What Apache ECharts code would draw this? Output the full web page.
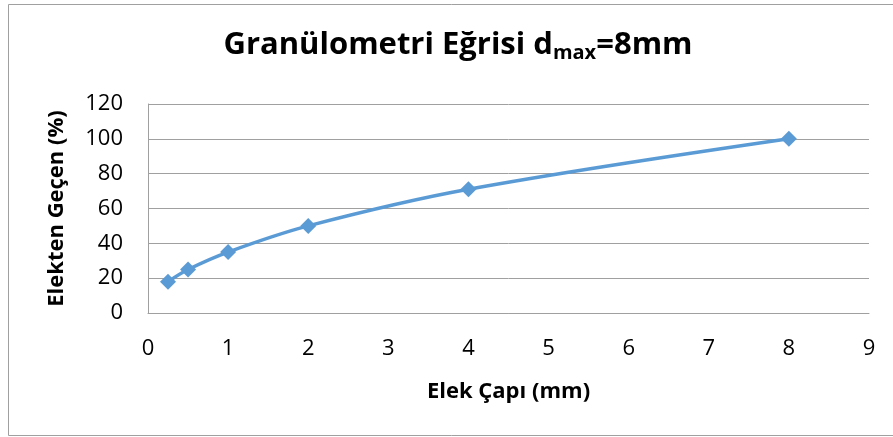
<!DOCTYPE html>
<html>
<head>
<meta charset="utf-8">
<script src="https://cdn.jsdelivr.net/npm/echarts@6/dist/echarts.min.js"></script>
<style>
  html, body { margin: 0; padding: 0; background: #fff; }
  #chart { width: 893px; height: 437px; }
</style>
</head>
<body>
<div id="chart"></div>
<script>
// sieve size (mm) and percent passing
const sieveSizes = [0.25, 0.5, 1, 2, 4, 8];
const passing = [18, 25, 35, 50, 71, 100];

const chart = echarts.init(document.getElementById('chart'));
const font = '"Open Sans", Lato, sans-serif';

chart.setOption({
  animation: false,
  backgroundColor: '#fff',
  title: {
    text: '{a|Granülometri Eğrisi d}{b|max}{a|=8mm}',
    left: 453,
    textAlign: 'center',
    top: 23,
    textStyle: {
      rich: {
        a: { fontFamily: font, fontWeight: 'bold', fontSize: 31, color: '#000' },
        b: { fontFamily: font, fontWeight: 'bold', fontSize: 20, color: '#000', padding: [15, 0, 0, 0] }
      }
    }
  },
  graphic: [{
    type: 'rect',
    shape: { x: 8.5, y: 4.5, width: 900, height: 431 },
    style: { fill: 'none', stroke: '#a0a0a0', lineWidth: 1 },
    silent: true
  }],
  grid: { left: 148, top: 104, right: 24, bottom: 124 },
  xAxis: {
    type: 'value',
    min: 0, max: 9, interval: 1,
    name: 'Elek Çapı (mm)',
    nameLocation: 'middle',
    nameGap: 68,
    nameTextStyle: { fontFamily: font, fontWeight: 'bold', fontSize: 22, color: '#000' },
    axisLine: { show: true, lineStyle: { color: '#a0a0a0', width: 1 } },
    axisTick: { show: false },
    splitLine: { show: false },
    axisLabel: { fontFamily: font, fontSize: 22, color: '#000', margin: 25 }
  },
  yAxis: {
    type: 'value',
    min: 0, max: 120, interval: 20,
    name: 'Elekten Geçen (%)',
    nameLocation: 'middle',
    nameGap: 80,
    nameTextStyle: { fontFamily: font, fontWeight: 'bold', fontSize: 22, color: '#000' },
    axisLine: { show: true, lineStyle: { color: '#a0a0a0', width: 1 } },
    axisTick: { show: false },
    splitLine: { show: true, lineStyle: { color: '#a0a0a0', width: 1 } },
    axisLabel: { fontFamily: font, fontSize: 22, color: '#000', margin: 25 }
  },
  series: [{
    type: 'line',
    data: sieveSizes.map((x, i) => [x, passing[i]]),
    smooth: 0.35,
    symbol: 'diamond',
    symbolSize: 16,
    lineStyle: { color: '#5b9bd5', width: 3.5 },
    itemStyle: { color: '#5b9bd5' }
  }]
});
</script>
</body>
</html>
